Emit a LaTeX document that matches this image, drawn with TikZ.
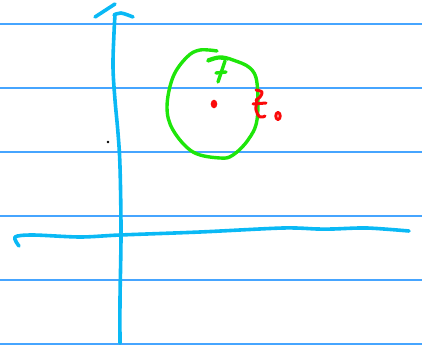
\documentclass[tikz,border=0pt]{standalone}
\begin{document}
\begin{tikzpicture}[x=1pt,y=-1pt,line cap=round,line join=round,
  rule/.style={draw=ruleblue,line width=1.3pt},
  axis/.style={draw=axiscyan,line width=3.6pt},
  greenpen/.style={draw=pengreen,line width=3.4pt},
  redpen/.style={draw=penred,line width=3pt}]
\definecolor{ruleblue}{RGB}{70,165,255}
\definecolor{axiscyan}{RGB}{10,185,245}
\definecolor{pengreen}{RGB}{30,230,10}
\definecolor{penred}{RGB}{250,10,10}
\useasboundingbox (0,0) rectangle (422,347);
% ruled lines
\foreach \yy in {24,88,152,216,280,344} \draw[rule] (0,\yy) -- (422,\yy);
% vertical axis
\draw[axis] plot[smooth,tension=0.6] coordinates {(115,15) (114,33) (113,67) (115,100) (118,133) (120,167) (121,233) (120,300) (120,343)};
\draw[axis] (95,17) -- (115,4);
\draw[axis] plot[smooth,tension=0.6] coordinates {(114,15) (121,13) (133,17)};
% horizontal axis
\draw[axis] plot[smooth,tension=0.5] coordinates {(19,246) (15,237) (33,235) (80,237) (120,235) (200,232) (283,228) (317,229) (333,229) (367,228) (409,231)};
% black dot
\fill[black] (108,142) circle (1.4);
% green circle
\draw[greenpen] plot[smooth,tension=0.6] coordinates {(217,51) (200,50) (187,57) (173,77) (167,107) (173,130) (193,152) (220,158) (233,155) (248,140) (257,120) (257,83) (250,68) (233,60) (220,57) (208,60)};
\draw[greenpen] plot[smooth,tension=0.6] coordinates {(208,61) (218,58) (228,59)};
\draw[greenpen] (225,61) -- (218,82);
\draw[greenpen] (216,73) -- (226,72);
% red dot
\fill[penred] (214,104) ellipse (3.3 and 4.3);
% z0
\draw[redpen] plot[smooth,tension=0.6] coordinates {(256,90) (262,92) (260,97) (256,100)};
\draw[redpen] plot[smooth,tension=0.6] coordinates {(257,100) (256,110) (260,117) (265,116)};
\draw[redpen] (253,104) -- (266,103);
\draw[redpen] (278,116) ellipse (2.2 and 3.5);
\end{tikzpicture}
\end{document}
